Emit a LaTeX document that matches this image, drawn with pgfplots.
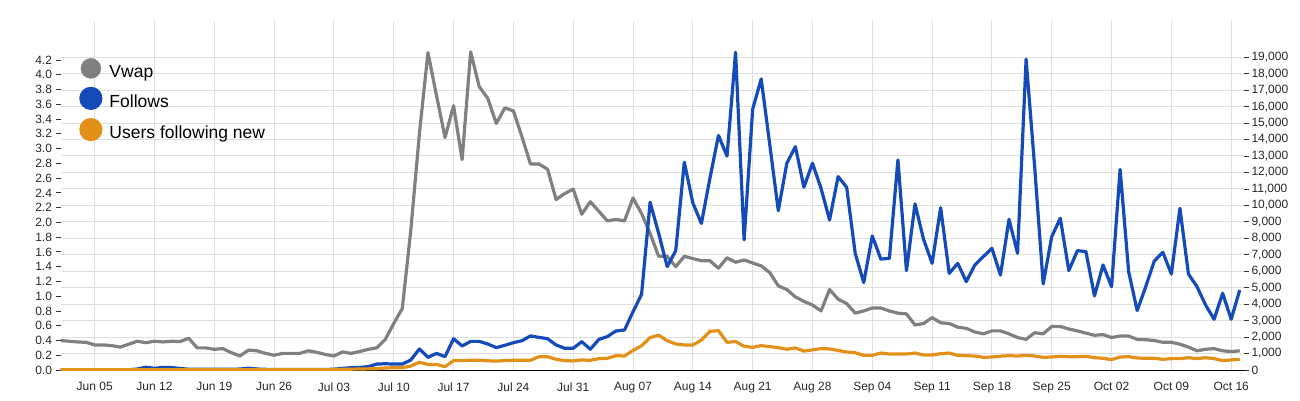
\documentclass[border=0pt]{standalone}
\usepackage{pgfplots}
\usepackage{pgfplotstable}
\pgfplotsset{compat=1.18}
\usepackage{fontspec}
\setmainfont{Liberation Sans}

\definecolor{vwapc}{RGB}{128,128,128}
\definecolor{followc}{RGB}{20,75,185}
\definecolor{newc}{RGB}{226,144,24}
\definecolor{gridc}{RGB}{222,222,222}

% day 0 = Jun 01 ... day 138 = Oct 17
\pgfplotstableread{
d vwap follows newusers
0 0.40 0 10
1 0.39 0 10
2 0.38 0 10
3 0.375 0 10
4 0.34 0 10
5 0.34 0 10
6 0.33 0 10
7 0.31 0 10
8 0.35 20 10
9 0.39 60 10
10 0.37 170 10
11 0.39 100 10
12 0.38 160 10
13 0.39 150 10
14 0.385 90 10
15 0.43 50 10
16 0.30 40 10
17 0.30 40 10
18 0.28 40 10
19 0.29 40 10
20 0.235 40 10
21 0.19 60 10
22 0.27 110 10
23 0.26 60 10
24 0.225 40 10
25 0.20 30 10
26 0.225 30 10
27 0.225 30 10
28 0.225 30 10
29 0.26 30 10
30 0.24 30 10
31 0.21 30 10
32 0.19 50 30
33 0.245 100 40
34 0.225 140 50
35 0.25 160 60
36 0.28 200 70
37 0.30 360 80
38 0.415 380 120
39 0.63 360 140
40 0.835 360 140
41 1.9 610 240
42 3.2 1280 470
43 4.3 770 340
44 3.72 1010 340
45 3.15 810 200
46 3.58 1900 570
47 2.85 1460 570
48 4.31 1740 590
49 3.84 1740 590
50 3.68 1580 560
51 3.34 1360 540
52 3.55 1500 570
53 3.51 1660 590
54 3.16 1780 590
55 2.79 2070 590
56 2.79 1980 810
57 2.72 1900 810
58 2.31 1520 650
59 2.39 1320 570
60 2.45 1320 550
61 2.11 1720 610
62 2.28 1260 590
63 2.15 1860 690
64 2.02 2030 710
65 2.04 2370 870
66 2.02 2430 850
67 2.33 3540 1190
68 2.12 4600 1470
69 1.85 10190 1970
70 1.54 8300 2110
71 1.54 6280 1780
72 1.40 7250 1580
73 1.54 12620 1520
74 1.51 10150 1520
75 1.48 8900 1820
76 1.48 11650 2350
77 1.38 14250 2390
78 1.52 12990 1680
79 1.46 19300 1730
80 1.49 7900 1440
81 1.45 15840 1380
82 1.41 17680 1480
83 1.32 13700 1420
84 1.14 9680 1360
85 1.09 12560 1260
86 0.99 13570 1340
87 0.93 11100 1150
88 0.88 12560 1220
89 0.80 11040 1300
90 1.09 9110 1280
91 0.96 11750 1190
92 0.90 11100 1090
93 0.77 7090 1050
94 0.80 5310 890
95 0.84 8140 890
96 0.84 6740 1030
97 0.80 6780 970
98 0.77 12760 970
99 0.76 6040 970
100 0.61 10090 1030
101 0.63 7940 910
102 0.71 6480 910
103 0.64 9860 990
104 0.63 5870 1030
105 0.58 6480 890
106 0.565 5370 870
107 0.515 6380 850
108 0.49 6890 770
109 0.53 7390 790
110 0.53 5770 840
111 0.49 9150 870
112 0.44 7090 850
113 0.415 18880 890
114 0.505 12350 850
115 0.49 5230 770
116 0.59 8100 790
117 0.59 9220 830
118 0.555 6040 810
119 0.53 7250 810
120 0.50 7190 830
121 0.47 4500 750
122 0.48 6380 710
123 0.44 5060 630
124 0.46 12190 790
125 0.46 5970 810
126 0.415 3610 730
127 0.41 5060 710
128 0.40 6620 710
129 0.375 7150 650
130 0.375 5830 690
131 0.35 9820 690
132 0.31 5830 750
133 0.26 5060 690
134 0.28 3950 750
135 0.29 3080 690
136 0.26 4660 570
137 0.25 3080 610
138 0.26 4860 650
}\chartdata

\pgfplotsset{
  base/.style={
    scale only axis, width=1183.5pt, height=349pt,
    at={(60.5pt,30pt)}, anchor=south west,
    xmin=0, xmax=138.5,
    ticklabel style={font=\fontsize{12}{14}\selectfont, text=black!85},
    /pgf/number format/assume math mode=true,
    tick align=outside, major tick length=5pt,
  },
  series/.style={line width=3.2pt, line join=round, no markers},
}

\begin{document}
\begin{tikzpicture}
\path[use as bounding box] (0,0) rectangle (1300pt,400pt);

% grid, x axis and right-hand scale
\begin{axis}[base,
  ymin=0, ymax=21199,
  axis y line*=right, axis x line*=bottom,
  y axis line style={draw=none},
  x axis line style={black, line width=1pt},
  xtick={4,11,...,137},
  xticklabels={Jun 05,Jun 12,Jun 19,Jun 26,Jul 03,Jul 10,Jul 17,Jul 24,Jul 31,Aug 07,Aug 14,Aug 21,Aug 28,Sep 04,Sep 11,Sep 18,Sep 25,Oct 02,Oct 09,Oct 16},
  xtick style={draw=none},
  xticklabel style={yshift=-4pt},
  ytick={0,1000,...,19000},
  ytick style={black!80, line width=0.8pt},
  scaled y ticks=false,
  yticklabel style={/pgf/number format/1000 sep={,}, anchor=west, xshift=-1pt},
  xmajorgrids, ymajorgrids,
  grid style={gridc, line width=1pt},
]
\end{axis}

% left-hand scale: Vwap
\begin{axis}[base,
  ymin=0, ymax=4.728,
  axis y line*=left, axis x line=none,
  y axis line style={draw=none},
  ytick={0,0.2,0.4,0.6,0.8,1.0,1.2,1.4,1.6,1.8,2.0,2.2,2.4,2.6,2.8,3.0,3.2,3.4,3.6,3.8,4.0,4.2},
  ytick style={black!80, line width=0.8pt},
  yticklabel style={/pgf/number format/fixed, /pgf/number format/fixed zerofill, /pgf/number format/precision=1},
]
\addplot[series, vwapc] table[x=d, y=vwap] {\chartdata};
\end{axis}

% right-hand scale: Follows and Users following new
\begin{axis}[base,
  ymin=0, ymax=21199,
  hide axis,
  legend cell align=left,
  legend image code/.code={\fill[#1] (10pt,0.36em) circle (10pt);},
  legend style={draw=none, fill=none, inner sep=0pt,
    at={(0.0157,0.8940)}, anchor=north west,
    font=\fontsize{17.5}{21}\selectfont,
    nodes={inner sep=0pt}, row sep=8pt, column sep=7pt},
]
\addlegendimage{vwapc}
\addlegendentry{Vwap}
\addplot[series, followc] table[x=d, y=follows] {\chartdata};
\addlegendentry{Follows}
\addplot[series, newc] table[x=d, y=newusers] {\chartdata};
\addlegendentry{Users following new}
\end{axis}
\end{tikzpicture}
\end{document}
